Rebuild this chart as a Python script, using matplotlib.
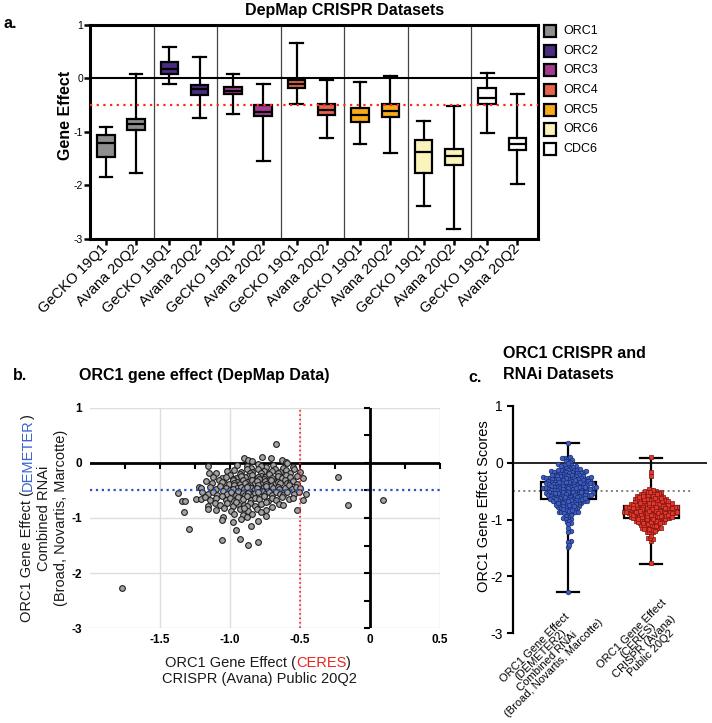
import numpy as np
import matplotlib
matplotlib.use("Agg")
import matplotlib.pyplot as plt
from matplotlib.patches import Rectangle

plt.rcParams["font.family"] = "Liberation Sans"
plt.rcParams["axes.unicode_minus"] = False

W, H = 712, 723

# ---------------- panel a data ----------------
genes = ["ORC1", "ORC2", "ORC3", "ORC4", "ORC5", "ORC6", "CDC6"]
gene_colors = ["#8e8e8e", "#4a2c82", "#a53a8e", "#e9634a", "#f8aa1a", "#fbf3b9", "#ffffff"]
datasets = ["GeCKO 19Q1", "Avana 20Q2"]
a_whislo = [-1.85, -1.77, -0.10, -0.74, -0.67, -1.55, -0.48, -1.11, -1.22, -1.39, -2.39, -2.82, -1.01, -1.98]
a_q1 = [-1.46, -0.96, 0.08, -0.30, -0.29, -0.71, -0.18, -0.69, -0.82, -0.72, -1.77, -1.61, -0.47, -1.34]
a_med = [-1.21, -0.85, 0.17, -0.19, -0.23, -0.62, -0.10, -0.58, -0.68, -0.61, -1.37, -1.45, -0.37, -1.22]
a_q3 = [-1.06, -0.76, 0.31, -0.13, -0.16, -0.49, -0.02, -0.47, -0.55, -0.48, -1.15, -1.32, -0.17, -1.12]
a_whishi = [-0.90, 0.08, 0.59, 0.40, 0.08, -0.10, 0.66, -0.03, -0.06, 0.04, -0.80, -0.52, 0.11, -0.29]

# ---------------- panel b/c data: ORC1 (CERES, DEMETER2) per cell line ----------------
orc1_pairs = [
    (-0.67, 0.35), (-0.90, 0.08), (-0.87, 0.06), (-0.77, 0.10), (-0.71, 0.08), (-0.63, 0.05), (-0.60, 0.02), (-0.84, 0.03),
    (-1.16, -0.05), (-0.95, -0.03), (-0.88, -0.06), (-0.80, -0.02), (-0.74, -0.08), (-0.69, -0.04), (-0.62, -0.09),
    (-0.55, -0.07), (-0.85, -0.09), (-0.78, -0.05), (-0.59, -0.01),
    (-1.15, -0.18), (-1.10, -0.19), (-1.02, -0.15), (-0.97, -0.13), (-0.92, -0.17), (-0.88, -0.12), (-0.84, -0.16),
    (-0.80, -0.11), (-0.76, -0.14), (-0.72, -0.18), (-0.68, -0.12), (-0.64, -0.16), (-0.60, -0.13), (-0.54, -0.12),
    (-0.50, -0.17), (-0.86, -0.19), (-0.78, -0.18), (-0.70, -0.15), (-0.66, -0.19), (-0.57, -0.18),
    (-1.12, -0.25), (-1.06, -0.28), (-1.00, -0.22), (-0.96, -0.27), (-0.93, -0.21), (-0.90, -0.29), (-0.87, -0.24),
    (-0.84, -0.22), (-0.81, -0.28), (-0.78, -0.23), (-0.75, -0.26), (-0.72, -0.21), (-0.69, -0.29), (-0.66, -0.24),
    (-0.63, -0.27), (-0.60, -0.22), (-0.57, -0.26), (-0.52, -0.24), (-0.48, -0.28), (-0.89, -0.26), (-0.80, -0.25),
    (-0.70, -0.27), (-0.92, -0.24), (-0.76, -0.29), (-1.03, -0.26), (-0.98, -0.29),
    (-1.17, -0.33), (-1.13, -0.37), (-1.08, -0.31), (-1.04, -0.36), (-1.01, -0.39), (-0.98, -0.32), (-0.95, -0.35),
    (-0.93, -0.38), (-0.91, -0.31), (-0.88, -0.34), (-0.86, -0.39), (-0.84, -0.32), (-0.82, -0.36), (-0.79, -0.30),
    (-0.77, -0.38), (-0.75, -0.33), (-0.73, -0.36), (-0.71, -0.31), (-0.68, -0.39), (-0.66, -0.34), (-0.64, -0.37),
    (-0.61, -0.32), (-0.59, -0.36), (-0.57, -0.37), (-0.55, -0.33), (-0.52, -0.38), (-0.89, -0.37), (-0.81, -0.33),
    (-0.74, -0.39), (-0.97, -0.36), (-1.06, -0.34),
    (-1.22, -0.43), (-1.21, -0.46), (-1.14, -0.44), (-1.10, -0.48), (-1.07, -0.42), (-1.03, -0.45), (-1.00, -0.49),
    (-0.97, -0.41), (-0.95, -0.46), (-0.92, -0.43), (-0.90, -0.48), (-0.87, -0.42), (-0.85, -0.45), (-0.83, -0.49),
    (-0.80, -0.41), (-0.78, -0.47), (-0.76, -0.44), (-0.73, -0.48), (-0.71, -0.42), (-0.69, -0.46), (-0.66, -0.43),
    (-0.63, -0.49), (-0.61, -0.45), (-0.58, -0.41), (-0.56, -0.47), (-0.53, -0.43), (-0.50, -0.46), (-0.88, -0.44),
    (-0.81, -0.46), (-0.74, -0.42), (-0.98, -0.47), (-0.65, -0.47),
    (-1.37, -0.54), (-1.20, -0.52), (-1.16, -0.57), (-1.12, -0.53), (-1.09, -0.58), (-1.05, -0.51), (-1.02, -0.56),
    (-0.99, -0.53), (-0.96, -0.59), (-0.94, -0.51), (-0.91, -0.55), (-0.89, -0.58), (-0.86, -0.52), (-0.84, -0.57),
    (-0.82, -0.54), (-0.79, -0.59), (-0.77, -0.51), (-0.75, -0.56), (-0.72, -0.53), (-0.70, -0.58), (-0.67, -0.52),
    (-0.64, -0.56), (-0.62, -0.59), (-0.59, -0.53), (-0.54, -0.56), (-0.46, -0.57), (-0.51, -0.52), (-0.87, -0.55),
    (-0.80, -0.53),
    (-1.34, -0.70), (-1.32, -0.70), (-1.24, -0.65), (-1.21, -0.65), (-1.18, -0.62), (-1.14, -0.68), (-1.10, -0.64),
    (-1.06, -0.61), (-1.03, -0.67), (-1.00, -0.63), (-0.97, -0.69), (-0.94, -0.62), (-0.91, -0.66), (-0.88, -0.61),
    (-0.85, -0.68), (-0.82, -0.63), (-0.79, -0.66), (-0.76, -0.61), (-0.73, -0.69), (-0.70, -0.64), (-0.67, -0.67),
    (-0.63, -0.62), (-0.58, -0.66), (-0.48, -0.67), (-0.55, -0.63),
    (-1.16, -0.78), (-1.11, -0.72), (-1.07, -0.76), (-1.02, -0.73), (-0.98, -0.79), (-0.94, -0.74), (-0.90, -0.77),
    (-0.86, -0.72), (-0.82, -0.78), (-0.78, -0.74), (-0.74, -0.71), (-0.70, -0.80), (-0.65, -0.75), (-0.62, -0.76),
    (-0.88, -0.79), (-0.96, -0.71),
    (-1.33, -0.89), (-1.16, -0.83), (-1.10, -0.86), (-1.04, -0.82), (-0.99, -0.88), (-0.93, -0.84), (-0.87, -0.87),
    (-0.81, -0.83), (-0.74, -0.86), (-0.52, -0.86), (-0.90, -0.81), (-0.78, -0.89),
    (-1.05, -0.98), (-0.97, -0.92), (-0.91, -0.95), (-0.84, -0.93), (-0.74, -0.97), (-0.88, -0.99),
    (-1.06, -1.04), (-0.92, -1.02), (-0.80, -1.06), (-0.98, -1.08),
    (-1.29, -1.20), (-0.85, -1.14), (-0.96, -1.22), (-0.93, -1.38), (-1.06, -1.39), (-0.87, -1.49), (-0.80, -1.44),
    (-1.77, -2.27),
    (-0.23, -0.25), (-0.16, -0.76), (0.095, -0.68),
]

c_labels = ["ORC1 Gene Effect\n(DEMETER2)\nCombined RNAi\n(Broad, Novartis, Marcotte)",
            "ORC1 Gene Effect\n(CERES)\nCRISPR (Avana)\nPublic 20Q2"]
c_q1 = [-0.63, -0.97]
c_med = [-0.47, -0.86]
c_q3 = [-0.335, -0.76]
c_whislo = [-2.27, -1.78]
c_whishi = [0.35, 0.09]


def fig_rect(x0, y0, x1, y1):
    return [x0 / W, 1 - y1 / H, (x1 - x0) / W, (y1 - y0) / H]


def fx(x):
    return x / W


def fy(y):
    return 1 - y / H


def swarm_offsets(vals, d, y_scale, x_scale):
    # simple beeswarm in pixel space, points allowed to overlap a bit (d < marker size)
    y_px = np.asarray(vals) * y_scale
    offs = np.zeros(len(y_px))
    placed = []
    for i in np.argsort(y_px):
        y = y_px[i]
        near = [(px, py) for px, py in placed if abs(py - y) < d]
        cands = [0.0]
        for px, py in near:
            dx = np.sqrt(d * d - (py - y) ** 2)
            cands += [px + dx, px - dx]
        cands.sort(key=abs)
        for c in cands:
            if all((c - px) ** 2 + (y - py) ** 2 >= d * d - 1e-6 for px, py in near):
                break
        offs[i] = c
        placed.append((c, y))
    return offs / x_scale


fig = plt.figure(figsize=(W / 100, H / 100), dpi=100)

# ======================= panel a =======================
ax = fig.add_axes(fig_rect(90, 25, 538, 239))
pos = [2 * g + d for g in range(len(genes)) for d in (0.5, 1.45)]
stats = [dict(whislo=a_whislo[i], q1=a_q1[i], med=a_med[i], q3=a_q3[i], whishi=a_whishi[i], fliers=[])
         for i in range(len(pos))]
bp = ax.bxp(stats, positions=pos, widths=0.55, capwidths=0.4, patch_artist=True, showfliers=False,
            manage_ticks=False, zorder=3,
            boxprops=dict(linewidth=1.6, edgecolor="black"),
            whiskerprops=dict(linewidth=1.6, color="black"),
            capprops=dict(linewidth=1.6, color="black"),
            medianprops=dict(linewidth=1.6, color="black"))
for i, patch in enumerate(bp["boxes"]):
    patch.set_facecolor(gene_colors[i // 2])

for g in range(1, len(genes)):
    ax.axvline(2 * g, color="#444444", lw=0.9, zorder=1)
ax.axhline(0, color="black", lw=1.5, zorder=1)
ax.axhline(-0.5, color="#ff2a1a", lw=1.6, ls=(0, (1, 2)), zorder=4)

ax.set_xlim(0, 14.1)
ax.set_ylim(-3, 1)
ax.set_xticks(pos)
ax.set_xticklabels(datasets * len(genes), rotation=45, ha="right", va="center",
                   rotation_mode="anchor", fontsize=10.5)
ax.set_yticks([1, 0, -1, -2, -3])
ax.set_yticklabels(["1", "0", "-1", "-2", "-3"], fontsize=7.5)
ax.tick_params(axis="x", length=4, width=1.8, pad=1.5)
ax.tick_params(axis="y", length=4, width=1.8, pad=1)
for s in ax.spines.values():
    s.set_linewidth(2.2)

# legend
for i, (gname, col) in enumerate(zip(genes, gene_colors)):
    yc = 31 + i * 19.7
    fig.add_artist(Rectangle((fx(544), fy(yc + 6)), 12 / W, 12 / H, transform=fig.transFigure,
                             facecolor=col, edgecolor="black", lw=1.6))
    fig.text(fx(563), fy(yc), gname, ha="left", va="center", fontsize=9)

fig.text(fx(344.5), fy(11), "DepMap CRISPR Datasets", ha="center", va="center",
         fontsize=11.5, fontweight="bold")
fig.text(fx(3), fy(24), "a.", ha="left", va="center", fontsize=11.5, fontweight="bold")
fig.text(fx(65.5), fy(115), "Gene Effect", ha="center", va="center", rotation=90,
         fontsize=11.5, fontweight="bold")

# ======================= panel b =======================
ceres = np.array([p[0] for p in orc1_pairs])
demeter = np.array([p[1] for p in orc1_pairs])

axb = fig.add_axes(fig_rect(90, 407.7, 440, 628.3))
axb.set_xlim(-2, 0.5)
axb.set_ylim(-3, 1)
axb.set_xticks([-1.5, -1.0, -0.5, 0, 0.5])
axb.set_xticklabels(["-1.5", "-1.0", "-0.5", "0", "0.5"], fontweight="bold", fontsize=8.5)
axb.set_yticks([1, 0, -1, -2, -3])
axb.set_yticklabels(["1", "0", "-1", "-2", "-3"], fontweight="bold", fontsize=8.5)
axb.tick_params(axis="x", length=0, pad=4.3)
axb.tick_params(axis="y", length=0, pad=5.8)
axb.grid(True, color="#dedede", lw=1)
axb.set_axisbelow(True)
for s in axb.spines.values():
    s.set_visible(False)

axb.axhline(0, color="black", lw=2, zorder=2)
axb.axvline(0, color="black", lw=2, zorder=2)
htick = np.arange(-1.75, 0.51, 0.25)
axb.plot(htick, np.zeros_like(htick), ls="none", marker=3, ms=4, mew=1.5, color="black",
         clip_on=False, zorder=2)
vtick = np.arange(-3, 1.01, 0.5)
axb.plot(np.zeros_like(vtick), vtick, ls="none", marker=0, ms=4, mew=1.5, color="black",
         clip_on=False, zorder=2)

axb.scatter(ceres, demeter, s=17, c="#a3a3a3", edgecolors="#202020", linewidths=0.8, zorder=3)
axb.axvline(-0.5, color="#ff2020", ls=":", lw=1.2, zorder=4)
axb.axhline(-0.5, color="#3050c8", ls=":", lw=1.6, zorder=4)

fig.text(fx(12.5), fy(375), "b.", ha="left", va="center", fontsize=11.5, fontweight="bold")
fig.text(fx(204.5), fy(375), "ORC1 gene effect (DepMap Data)", ha="center", va="center",
         fontsize=11.5, fontweight="bold")

renderer = fig.canvas.get_renderer()


def rich_line(x, y, parts, rotation=0, size=10.5):
    # parts placed one after another, whole line centred on (x, y); y is baseline for horizontal
    texts = []
    for s, col in parts:
        t = fig.text(0, 0, s, color=col, fontsize=size, rotation=rotation,
                     rotation_mode="anchor", ha="left", va="baseline")
        texts.append(t)
    if rotation == 0:
        ws = [t.get_window_extent(renderer).width for t in texts]
        start = x - sum(ws) / 2
        for t, w in zip(texts, ws):
            t.set_position((fx(start), fy(y)))
            start += w
    else:
        hs = [t.get_window_extent(renderer).height for t in texts]
        start = y + sum(hs) / 2
        for t, h in zip(texts, hs):
            t.set_position((fx(x), fy(start)))
            start -= h


rich_line(31.5, 518, [("ORC1 Gene Effect (", "#1a1a1a"), ("DEMETER", "#3a62c9"), (")", "#1a1a1a")],
          rotation=90)
fig.text(fx(47.5), fy(518), "Combined RNAi", rotation=90, rotation_mode="anchor",
         ha="center", va="baseline", fontsize=10.5, color="#1a1a1a")
fig.text(fx(65.5), fy(518), "(Broad, Novartis, Marcotte)", rotation=90, rotation_mode="anchor",
         ha="center", va="baseline", fontsize=10.5, color="#1a1a1a")

rich_line(258, 667, [("ORC1 Gene Effect (", "#1a1a1a"), ("CERES", "#e8251f"), (")", "#1a1a1a")])
fig.text(fx(259), fy(683.5), "CRISPR (Avana) Public 20Q2", ha="center", va="baseline",
         fontsize=10.5, color="#1a1a1a")

# ======================= panel c =======================
axc = fig.add_axes(fig_rect(513.3, 406, 706.7, 633.3))
axc.set_xlim(0.335, 2.673)
axc.set_ylim(-3, 1)
for side in ("top", "right", "bottom"):
    axc.spines[side].set_visible(False)
axc.spines["left"].set_linewidth(1.6)
axc.set_xticks([])
axc.set_yticks([1, 0, -1, -2, -3])
axc.set_yticklabels(["1", "0", "-1", "-2", "-3"], fontsize=10)
axc.tick_params(axis="y", length=4.5, width=1.5, pad=3)

cstats = [dict(whislo=c_whislo[i], q1=c_q1[i], med=c_med[i], q3=c_q3[i], whishi=c_whishi[i], fliers=[])
          for i in range(2)]
cbp = axc.bxp(cstats, positions=[1, 2], widths=0.665, capwidths=0.27, patch_artist=True,
              showfliers=False, manage_ticks=False, zorder=2,
              boxprops=dict(linewidth=1.6, edgecolor="black", facecolor="white"),
              whiskerprops=dict(linewidth=1.6, color="black"),
              capprops=dict(linewidth=1.6, color="black"),
              medianprops=dict(linewidth=1.6, color="black"))

axc.axhline(0, color="black", lw=1.2, zorder=1)
axc.axhline(-0.5, xmax=0.93, color="#808080", ls=":", lw=1.4, zorder=1.5)

bb = axc.get_window_extent(renderer)
ys = bb.height / 4.0
xs = bb.width / (2.673 - 0.335)
off_d = swarm_offsets(demeter, 2.9, ys, xs)
off_c = swarm_offsets(ceres, 2.4, ys, xs)
axc.scatter(1 + off_d, demeter, s=11, marker="o", c="#3b5cc4", edgecolors="#1d2c66",
            linewidths=0.5, zorder=3, clip_on=False)
axc.scatter(2 + off_c, ceres, s=10, marker="s", c="#e8342a", edgecolors="#7a1a12",
            linewidths=0.5, zorder=3, clip_on=False)

for i, lab in enumerate(c_labels):
    axc.text(1 + i + 0.12, -2.37, lab, rotation=45, rotation_mode="anchor", ha="right", va="top",
             multialignment="center", fontsize=8, linespacing=0.9)

fig.text(fx(484), fy(506), "ORC1 Gene Effect Scores", rotation=90, ha="center", va="center",
         fontsize=10.5)
fig.text(fx(468), fy(378), "c.", ha="left", va="center", fontsize=11.5, fontweight="bold")
fig.text(fx(503), fy(354), "ORC1 CRISPR and", ha="left", va="center", fontsize=11.5, fontweight="bold")
fig.text(fx(503), fy(374), "RNAi Datasets", ha="left", va="center", fontsize=11.5, fontweight="bold")

fig.savefig("out.png", dpi=100)
